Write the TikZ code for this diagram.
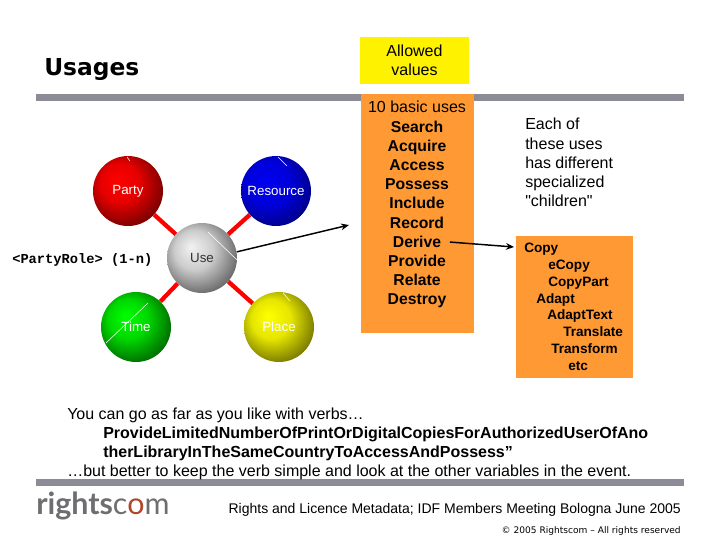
\documentclass[tikz,border=0pt]{standalone}
\usepackage{fontspec}
\setmainfont{Liberation Sans}
\newfontfamily\dejavu{DejaVu Sans}
\newfontfamily\monof{Liberation Mono}
\newfontfamily\logof{Lato}
\newfontfamily\plainf{Liberation Sans}
\usetikzlibrary{arrows.meta,backgrounds}
\definecolor{barc}{HTML}{8C8C96}
\definecolor{orangec}{HTML}{FF9933}
\definecolor{logog}{HTML}{6E6E70}
\definecolor{logor}{HTML}{B0452C}
\pgfdeclareradialshading{redball}{\pgfpoint{-8bp}{8bp}}{color(0bp)=(red);color(14bp)=(red!90!black);color(36bp)=(red!30!black);color(50bp)=(red!30!black)}
\pgfdeclareradialshading{blueball}{\pgfpoint{-8bp}{8bp}}{color(0bp)=(blue!95!black);color(16bp)=(blue!85!black);color(36bp)=(blue!40!black);color(50bp)=(blue!40!black)}
\pgfdeclareradialshading{greenball}{\pgfpoint{-8bp}{8bp}}{color(0bp)=(green);color(14bp)=(green!85!black);color(36bp)=(green!25!black);color(50bp)=(green!25!black)}
\pgfdeclareradialshading{yellowball}{\pgfpoint{-8bp}{8bp}}{color(0bp)=(yellow);color(14bp)=(yellow!90!black);color(36bp)=(yellow!30!black);color(50bp)=(yellow!30!black)}
\pgfdeclareradialshading{greyball}{\pgfpoint{-8bp}{8bp}}{color(0bp)=(white!95!black);color(14bp)=(white!80!black);color(36bp)=(black!75);color(50bp)=(black!75)}
\tikzset{
  ball/.style={circle,draw=none,inner sep=0pt,minimum size=52.5pt,text=white,font=\fontsize{10}{12}\selectfont},
  link/.style={draw=red,line width=3.2pt},
  glint/.style={draw=white,line width=0.4pt},
  bar/.style={fill=barc},
  orangebox/.style={fill=orangec,inner sep=0pt},
  txt/.style={inner sep=0pt,anchor=base,font=\fontsize{12}{14.4}\selectfont},
  boldtxt/.style={txt,font=\fontsize{11.8}{14.4}\selectfont\bfseries},
  ltxt/.style={inner sep=0pt,anchor=base west,font=\fontsize{12}{14.4}\selectfont},
  childtxt/.style={inner sep=0pt,anchor=base west,font=\fontsize{10.2}{12}\selectfont\bfseries},
  pointer/.style={draw=black,line width=1.1pt,-{Stealth[length=6pt,width=5pt]}},
}
\begin{document}
\begin{tikzpicture}[x=0.75pt,y=-0.75pt]
\useasboundingbox (0,0) rectangle (720,540);
\fill[bar] (36,94) rectangle (684,101);
\fill[bar] (36,479) rectangle (684,486);
\node[inner sep=0pt,anchor=base west,font=\dejavu\fontsize{17.5}{20}\selectfont\bfseries] (title) at (44,75) {Usages};
\node[orangebox,fill=yellow,align=center,minimum width=81.75pt,minimum height=35.25pt,font=\fontsize{12}{14.4}\selectfont] (allowed) at (414.5,60.5) {Allowed\\values};
\node[orangebox,minimum width=84.75pt,minimum height=179.25pt] (uses) at (417.5,213.5) {};
\node[orangebox,minimum width=87.75pt,minimum height=106.5pt] (children) at (574.5,307) {};
\node[txt] (u0) at (417,112) {10 basic uses};
\node[boldtxt] (u1) at (417,132) {Search};
\node[boldtxt] (u2) at (417,151) {Acquire};
\node[boldtxt] (u3) at (417,170) {Access};
\node[boldtxt] (u4) at (417,189) {Possess};
\node[boldtxt] (u5) at (417,208) {Include};
\node[boldtxt] (u6) at (417,228) {Record};
\node[boldtxt] (derive) at (417,247) {Derive};
\node[boldtxt] (u8) at (417,266) {Provide};
\node[boldtxt] (u9) at (417,285) {Relate};
\node[boldtxt] (u10) at (417,304) {Destroy};
\node[ltxt] (e1) at (525,129) {Each of};
\node[ltxt] (e2) at (525,149) {these uses};
\node[ltxt] (e3) at (525,168) {has different};
\node[ltxt] (e4) at (525,187) {specialized};
\node[ltxt] (e5) at (525,206) {\plainf "children"};
\node[childtxt] (c1) at (524,252) {Copy};
\node[childtxt] (c2) at (548,269) {eCopy};
\node[childtxt] (c3) at (548,286) {CopyPart};
\node[childtxt] (c4) at (536,303) {Adapt};
\node[childtxt] (c5) at (547,319) {AdaptText};
\node[childtxt] (c6) at (563,336) {Translate};
\node[childtxt] (c7) at (551,353) {Transform};
\node[childtxt] (c8) at (568,370) {etc};
\node[ball,shading=redball] (party) at (128,191) {Party};
\node[ball,shading=blueball] (resource) at (276,191) {Resource};
\node[ball,shading=greyball,text=black!80] (use) at (202,258) {Use};
\node[ball,shading=greenball] (time) at (136,327) {Time};
\node[ball,shading=yellowball] (place) at (279,327) {Place};
\begin{pgfonlayer}{background}
\draw[link] (party) -- (use);
\draw[link] (resource) -- (use);
\draw[link] (time) -- (use);
\draw[link] (place) -- (use);
\end{pgfonlayer}
\draw[glint] (208,232) -- (237,260);
\draw[glint] (106,343) -- (148,303);
\draw[glint] (278,157) -- (287,166);
\draw[glint] (127,157) -- (130,161);
\draw[glint] (283,293) -- (290,301);
\node[inner sep=0pt,anchor=base west,font=\monof\fontsize{10.3}{12}\selectfont\bfseries] (role) at (12,263) {<PartyRole> (1-n)};
\coordinate (usetip) at (349,225);
\coordinate (derivetip) at (514,247);
\draw[pointer] (use.10) -- (usetip);
\draw[pointer,shorten <=6.5pt] (derive.east) -- (derivetip);
\node[ltxt] (b1) at (67,419) {You can go as far as you like with verbs…};
\node[ltxt,font=\fontsize{12}{14.4}\selectfont\bfseries] (b2) at (103,438) {ProvideLimitedNumberOfPrintOrDigitalCopiesForAuthorizedUserOfAno};
\node[ltxt,font=\fontsize{12}{14.4}\selectfont\bfseries] (b3) at (103,457) {therLibraryInTheSameCountryToAccessAndPossess”};
\node[ltxt] (b4) at (67,476) {…but better to keep the verb simple and look at the other variables in the event.};
\node[inner sep=0pt,anchor=base west,font=\logof\fontsize{22.8}{26}\selectfont,text=logog] (logo) at (36,514) {\textbf{rights}c\textcolor{logor}{o}m};
\node[inner sep=0pt,anchor=base east,font=\fontsize{10.5}{12}\selectfont] (foot) at (681,513) {Rights and Licence Metadata; IDF Members Meeting Bologna June 2005};
\node[inner sep=0pt,anchor=base east,font=\dejavu\fontsize{6.8}{8}\selectfont] (copy) at (681,533) {© 2005 Rightscom – All rights reserved};
\end{tikzpicture}
\end{document}
